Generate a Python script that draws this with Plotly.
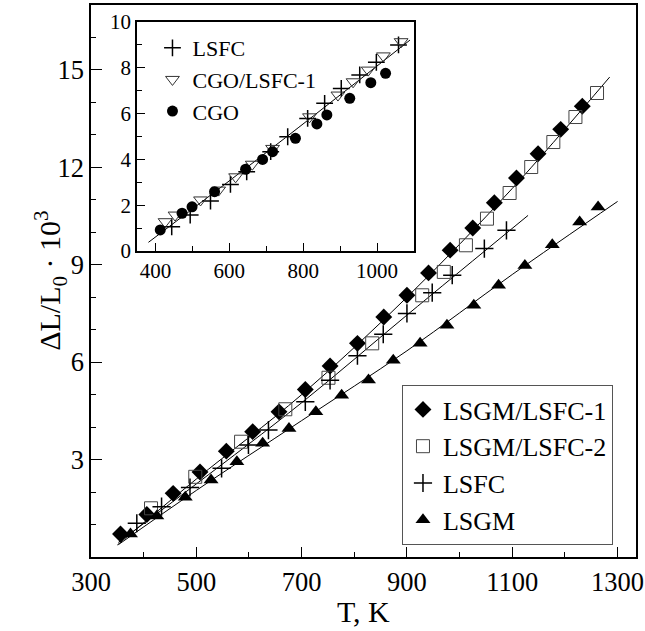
import plotly.graph_objects as go

# ---------------- main panel data ----------------
t_lsgm_lsfc1 = [356, 406, 456, 507, 557, 607, 657, 707, 754, 806, 856, 900, 941, 982, 1025, 1066, 1108, 1149, 1192, 1233]
v_lsgm_lsfc1 = [0.71, 1.31, 1.96, 2.62, 3.26, 3.86, 4.47, 5.16, 5.88, 6.58, 7.39, 8.06, 8.75, 9.45, 10.13, 10.91, 11.67, 12.42, 13.17, 13.88]

t_lsgm_lsfc2 = [414, 498, 585, 669, 751, 834, 929, 970, 1012, 1052, 1095, 1136, 1178, 1220, 1261]
v_lsgm_lsfc2 = [1.50, 2.47, 3.55, 4.55, 5.52, 6.58, 8.06, 8.78, 9.60, 10.42, 11.21, 12.01, 12.78, 13.55, 14.29]

t_lsfc = [387, 434, 488, 548, 599, 637, 707, 754, 806, 855, 900, 948, 986, 1047, 1089]
v_lsfc = [1.04, 1.55, 2.14, 2.73, 3.45, 3.91, 4.78, 5.44, 6.20, 6.86, 7.50, 8.14, 8.68, 9.50, 10.06]

t_lsgm = [375, 425, 479, 528, 577, 626, 676, 727, 776, 827, 874, 925, 976, 1027, 1074, 1124, 1176, 1228, 1263]
v_lsgm = [0.71, 1.26, 1.84, 2.37, 2.93, 3.50, 3.96, 4.47, 4.98, 5.45, 6.06, 6.58, 7.14, 7.75, 8.37, 8.98, 9.62, 10.32, 10.78]

# fitted curves
fit1_t = [350, 500, 700, 900, 1100, 1285]
fit1_v = [0.37, 2.40, 5.00, 8.00, 11.35, 14.78]
fit2_t = [352, 500, 700, 900, 1130]
fit2_v = [0.45, 2.25, 4.75, 7.45, 10.52]
fit3_t = [352, 500, 700, 900, 1100, 1300]
fit3_v = [0.38, 2.05, 4.20, 6.35, 8.70, 10.95]

x_major = [300, 500, 700, 900, 1100, 1300]
x_minor = [400, 600, 800, 1000, 1200]
y_major = [3, 6, 9, 12, 15]

# ---------------- inset data ----------------
in_t_lsfc = [444, 494, 549, 603, 647, 712, 758, 812, 858, 903, 953, 998, 1058]
in_v_lsfc = [1.06, 1.57, 2.18, 2.91, 3.46, 4.34, 4.99, 5.79, 6.45, 7.10, 7.69, 8.24, 9.00]

in_t_cgo_lsfc = [426, 453, 522, 571, 617, 662, 717, 817, 894, 935, 976, 1017, 1065]
in_v_cgo_lsfc = [1.28, 1.57, 2.23, 2.66, 3.24, 3.79, 4.48, 5.86, 6.81, 7.39, 7.90, 8.52, 9.14]

in_t_cgo = [413, 472, 499, 560, 644, 690, 717, 779, 837, 864, 926, 983, 1023]
in_v_cgo = [0.92, 1.65, 1.93, 2.59, 3.57, 4.00, 4.34, 4.92, 5.55, 5.94, 6.67, 7.35, 7.76]

in_fit_t = [381, 720, 1089]
in_fit_v = [0.38, 4.55, 9.21]

in_x_major = [400, 600, 800, 1000]
in_x_minor = [500, 700, 900]
in_y_major = [0, 2, 4, 6, 8, 10]

FONT = "'Liberation Serif', 'Times New Roman', Times, serif"
fig = go.Figure()

line_style = dict(color="black", width=1)
for tx, vy in [(fit1_t, fit1_v), (fit2_t, fit2_v), (fit3_t, fit3_v)]:
    fig.add_trace(go.Scatter(x=tx, y=vy, mode="lines", line=dict(shape="spline", **line_style),
                             showlegend=False, hoverinfo="skip", xaxis="x", yaxis="y"))

fig.add_trace(go.Scatter(x=t_lsgm_lsfc1, y=v_lsgm_lsfc1, mode="markers", name="LSGM/LSFC-1",
                         marker=dict(symbol="diamond", size=13, color="black"), legend="legend"))
fig.add_trace(go.Scatter(x=t_lsgm_lsfc2, y=v_lsgm_lsfc2, mode="markers", name="LSGM/LSFC-2",
                         marker=dict(symbol="square-open", size=13, color="#444", line=dict(width=1)),
                         legend="legend"))
fig.add_trace(go.Scatter(x=t_lsfc, y=v_lsfc, mode="markers", name="LSFC",
                         marker=dict(symbol="cross-thin-open", size=13, color="black", line=dict(width=1.5, color="black")),
                         legend="legend"))
fig.add_trace(go.Scatter(x=t_lsgm, y=v_lsgm, mode="markers", name="LSGM",
                         marker=dict(symbol="triangle-up", size=13, color="black"), legend="legend"))

# inset
fig.add_trace(go.Scatter(x=in_fit_t, y=in_fit_v, mode="lines", line=dict(shape="spline", **line_style),
                         showlegend=False, hoverinfo="skip", xaxis="x2", yaxis="y2"))
fig.add_trace(go.Scatter(x=in_t_lsfc, y=in_v_lsfc, mode="markers", name="LSFC", xaxis="x2", yaxis="y2",
                         marker=dict(symbol="cross-thin-open", size=12, color="black", line=dict(width=1.5, color="black")),
                         legend="legend2"))
fig.add_trace(go.Scatter(x=in_t_cgo_lsfc, y=in_v_cgo_lsfc, mode="markers", name="CGO/LSFC-1", xaxis="x2", yaxis="y2",
                         marker=dict(symbol="triangle-down-open", size=12, color="#333", line=dict(width=1)),
                         legend="legend2"))
fig.add_trace(go.Scatter(x=in_t_cgo, y=in_v_cgo, mode="markers", name="CGO", xaxis="x2", yaxis="y2",
                         marker=dict(symbol="circle", size=11, color="black"),
                         legend="legend2"))


def ax(**kw):
    base = dict(showline=True, linecolor="black", linewidth=1.5, mirror=True, ticks="inside",
                tickcolor="black", tickwidth=1.2, showgrid=False, zeroline=False, automargin=False)
    base.update(kw)
    return base


fig.update_layout(
    width=645, height=631,
    margin=dict(l=91, r=9, t=5, b=74, autoexpand=False),
    paper_bgcolor="white", plot_bgcolor="white",
    font=dict(family=FONT, color="black"),
    xaxis=ax(range=[300, 1335], tickvals=x_major, ticklen=10,
             minor=dict(ticks="inside", ticklen=5, tickvals=x_minor, tickcolor="black"),
             tickfont=dict(family=FONT, size=26.5, color="black")),
    yaxis=ax(range=[0, 17], tickvals=y_major, ticklen=11,
             minor=dict(ticks="inside", ticklen=5, dtick=1, tick0=0, tickcolor="black"),
             tickfont=dict(family=FONT, size=26.5, color="black")),
    xaxis2=ax(domain=[0.0844, 0.5927], anchor="y2", range=[350, 1100], tickvals=in_x_major, ticklen=8,
              minor=dict(ticks="inside", ticklen=5, tickvals=in_x_minor, tickcolor="black"),
              tickfont=dict(family=FONT, size=21, color="black")),
    yaxis2=ax(domain=[0.5543, 0.9692], anchor="x2", range=[0, 10], tickvals=in_y_major, ticklen=8,
              minor=dict(ticks="inside", ticklen=5, dtick=1, tick0=0, tickcolor="black"),
              tickfont=dict(family=FONT, size=21, color="black")),
    legend=dict(x=0.5706, y=0.3116, xanchor="left", yanchor="top", bgcolor="white",
                bordercolor="#555", borderwidth=1, font=dict(family=FONT, size=26, color="black"),
                tracegroupgap=0),
    legend2=dict(x=0.1128, y=0.9601, xanchor="left", yanchor="top", bgcolor="rgba(0,0,0,0)",
                 borderwidth=0, font=dict(family=FONT, size=22, color="black")),
    annotations=[
        dict(text="T, K", xref="paper", yref="paper", x=0.5, y=-0.0996, xanchor="center", yanchor="middle",
             showarrow=False, font=dict(family=FONT, size=30, color="black")),
        dict(text="ΔL/L<sub>0</sub> · 10<sup>3</sup>", xref="paper", yref="paper", x=-0.0756, y=0.5,
             xanchor="center", yanchor="middle", textangle=-90, showarrow=False,
             font=dict(family=FONT, size=30, color="black")),
    ],
)

fig.write_html("out.html")
